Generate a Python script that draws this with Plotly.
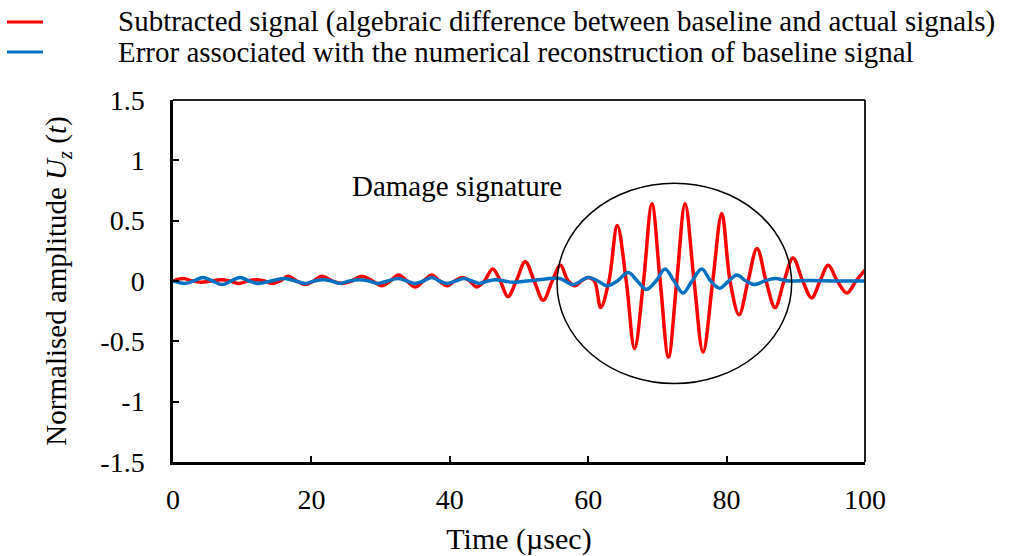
import plotly.graph_objects as go

# Subtracted signal (red): extrema and zero crossings
red_t = [0, 1.5, 2.8, 4, 5.5, 7, 8.2, 9.5, 10.8, 12, 13.2, 14.3, 15.5, 16.6, 17.9, 19.1,
         20.3, 21.5, 23, 24.4, 25.8, 27.3, 28.8, 30.2, 31.4, 32.6, 33.8, 35, 36.2, 37.4,
         38.5, 39.6, 40.7, 41.8, 42.9, 43.9, 45, 46.2, 47.3, 48.4, 49.6, 50.9, 52.2, 53.5,
         54.8, 56, 57.1, 58.1, 59, 60, 60.9, 61.8, 63, 64.2, 65.5, 66.7, 68, 69.2, 70.4,
         71.6, 72.8, 74, 75.3, 76.6, 78, 79.3, 80.5, 81.8, 83.1, 84.4, 85.7, 87, 88.3,
         89.6, 91, 92.3, 93.5, 94.7, 96, 97.4, 98.7, 100]
red_u = [0, 0.02, 0, -0.01, 0, 0.01, 0, -0.02, 0, 0.01, 0, -0.02, 0, 0.04, 0, -0.03,
         0, 0.04, 0, -0.02, 0, 0.04, 0, -0.04, 0, 0.05, 0, -0.05, 0, 0.05,
         0, -0.04, 0, 0.03, 0, -0.05, 0, 0.10, 0, -0.13, 0, 0.16, 0, -0.16,
         0, 0.13, 0, -0.04, 0, 0.03, 0, -0.22, 0, 0.46, 0, -0.56, 0, 0.64, 0,
         -0.63, 0, 0.64, 0, -0.59, 0, 0.56, 0, -0.28, 0, 0.27, 0, -0.22, 0,
         0.19, 0, -0.14, 0, 0.13, 0, -0.10, 0, 0.09]

# Reconstruction error (blue)
blue_t = [0, 1.7, 3, 4.3, 5.7, 7.1, 8.4, 9.7, 11, 12.3, 14.2, 16.2, 17.7, 19.1, 20.4,
          21.7, 22.9, 24.1, 25.5, 27, 28.3, 29.6, 31, 32.5, 33.8, 35, 36.2, 37.4, 38.5,
          39.6, 40.8, 42.1, 43.2, 44.3, 45.5, 46.7, 47.9, 49, 52, 55.9, 57.8, 60, 61.4,
          62.7, 64.2, 65.8, 67.1, 68.4, 69.8, 71.1, 72.4, 73.7, 75, 76.4, 77.7, 79,
          80.3, 81.5, 82.8, 84.1, 85.5, 87, 89, 92, 96, 100]
blue_u = [0, -0.02, 0, 0.03, 0, -0.03, 0, 0.03, 0, -0.02, 0, 0.02, 0, -0.02, 0,
          0.01, 0, -0.02, 0, 0.01, 0, -0.02, 0, 0.02, 0, -0.02, 0, 0.03, 0,
          -0.02, 0, 0.02, 0, -0.02, 0, 0.01, 0, -0.01, 0.005, 0.02, -0.03, 0.03, 0,
          -0.04, 0, 0.07, 0, -0.07, 0, 0.10, 0, -0.10, 0, 0.10, 0, -0.06,
          0, 0.05, 0, -0.03, 0, 0.02, 0, 0.005, 0.0, 0.0]

x_ticks = [0, 20, 40, 60, 80, 100]
y_ticks = [-1.5, -1, -0.5, 0, 0.5, 1, 1.5]
y_tick_text = ["-1.5", "-1", "-0.5", "0", "0.5", "1", "1.5"]

series_names = ["Subtracted signal (algebraic difference between baseline and actual signals)",
                "Error associated with the numerical reconstruction of baseline signal"]
series_colors = ["#FF0000", "#0070C0"]

FONT = "Liberation Serif"
X_RANGE = [0, 100]
Y_RANGE = [-1.5, 1.5]

fig = go.Figure()
fig.add_trace(go.Scatter(
    x=red_t, y=red_u, mode="lines", showlegend=False, name=series_names[0],
    line=dict(color=series_colors[0], width=3.5, shape="spline", smoothing=1)))
fig.add_trace(go.Scatter(
    x=blue_t, y=blue_u, mode="lines", showlegend=False, name=series_names[1],
    xaxis="x2", yaxis="y2",
    line=dict(color=series_colors[1], width=3.5, shape="spline", smoothing=1)))

# manual legend (short line, wide gap as in the reference)
legend_rows_y = [1.2155, 1.1326]
shapes = []
annotations = []
for name, col, yy in zip(series_names, series_colors, legend_rows_y):
    shapes.append(dict(type="line", xref="paper", yref="paper", x0=-0.2399, x1=-0.1879, y0=yy, y1=yy,
                       line=dict(color=col, width=3)))
    annotations.append(dict(xref="paper", yref="paper", x=-0.0824, y=yy, xanchor="left", yanchor="middle",
                            text=name, showarrow=False, font=dict(family=FONT, size=29, color="black")))

shapes += [
    dict(type="line", xref="paper", yref="paper", x0=0, x1=1, y0=1, y1=1, line=dict(color="#222", width=2)),
    dict(type="line", xref="paper", yref="paper", x0=1, x1=1, y0=0, y1=1, line=dict(color="#222", width=2)),
    dict(type="circle", xref="x", yref="y", x0=55.5, x1=89.4, y0=-0.85, y1=0.81,
         line=dict(color="black", width=1.5)),
]
annotations.append(dict(x=41.1, y=0.79, xref="x", yref="y", text="Damage signature", showarrow=False,
                        font=dict(family=FONT, size=29, color="black")))

fig.update_layout(
    width=1011, height=556,
    margin=dict(l=173, r=146, t=100, b=94, autoexpand=False),
    paper_bgcolor="white", plot_bgcolor="white",
    font=dict(family=FONT, size=27, color="black"),
    showlegend=False,
    xaxis=dict(range=X_RANGE, tickvals=x_ticks, showline=True, linecolor="black", linewidth=2.5,
               ticks="outside", ticklen=11, tickcolor="rgba(255,255,255,0)", showgrid=False, zeroline=False,
               tickfont=dict(family=FONT, size=28, color="black"),
               title=dict(text="Time (µsec)", standoff=15, font=dict(family=FONT, size=30, color="black"))),
    yaxis=dict(range=Y_RANGE, tickvals=y_ticks, ticktext=y_tick_text, showline=True, linecolor="black",
               linewidth=2.5, ticks="outside", ticklen=20, tickcolor="rgba(255,255,255,0)", showgrid=False,
               zeroline=False, tickfont=dict(family=FONT, size=28, color="black"),
               title=dict(text="Normalised amplitude <i>U</i><sub><i>z</i></sub> (<i>t</i>)", standoff=26,
                          font=dict(family=FONT, size=29, color="black"))),
    xaxis2=dict(range=X_RANGE, tickvals=x_ticks, overlaying="x", anchor="y2", showticklabels=False,
                ticks="inside", ticklen=6, tickwidth=2, tickcolor="black", showgrid=False, zeroline=False,
                showline=False),
    yaxis2=dict(range=Y_RANGE, tickvals=y_ticks, overlaying="y", anchor="x2", showticklabels=False,
                ticks="inside", ticklen=6, tickwidth=2, tickcolor="black", showgrid=False, zeroline=False,
                showline=False),
    shapes=shapes,
    annotations=annotations,
)

fig.write_html("out.html")
